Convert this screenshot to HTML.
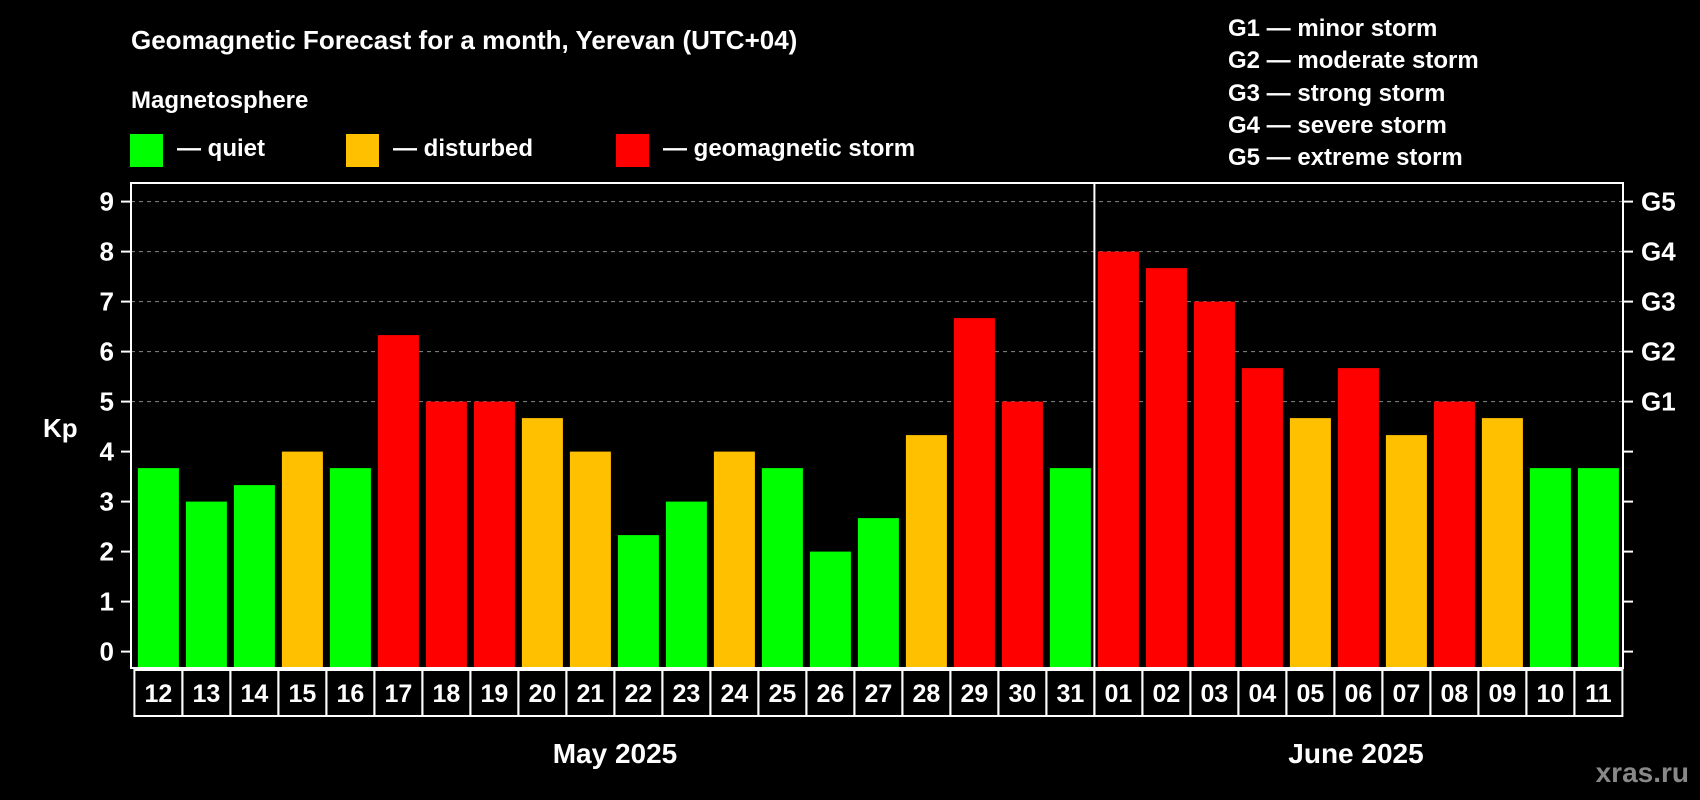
<!DOCTYPE html>
<html><head><meta charset="utf-8"><style>
body{margin:0;background:#000;}
svg{display:block;font-family:"Liberation Sans",sans-serif;font-weight:bold;}
</style></head><body>
<svg id="c" width="1700" height="800" viewBox="0 0 1700 800">
<rect width="1700" height="800" fill="#000"/>
<text x="131" y="49" fill="#fff" font-size="26">Geomagnetic Forecast for a month, Yerevan (UTC+04)</text>
<text x="131" y="108" fill="#fff" font-size="24">Magnetosphere</text>
<g><rect x="130" y="134" width="33" height="33" fill="#00ff00"/><text x="177" y="156" fill="#fff" font-size="24">— quiet</text></g>
<g><rect x="346" y="134" width="33" height="33" fill="#ffc000"/><text x="393" y="156" fill="#fff" font-size="24">— disturbed</text></g>
<g><rect x="616" y="134" width="33" height="33" fill="#ff0000"/><text x="663" y="156" fill="#fff" font-size="24">— geomagnetic storm</text></g>
<g fill="#fff" font-size="24">
<text x="1228" y="36">G1 — minor storm</text>
<text x="1228" y="68">G2 — moderate storm</text>
<text x="1228" y="101">G3 — strong storm</text>
<text x="1228" y="133">G4 — severe storm</text>
<text x="1228" y="165">G5 — extreme storm</text>
</g>
<text x="43" y="437" fill="#fff" font-size="26">Kp</text>
<g id="grid"></g><g id="bars"></g><g id="axes"></g>
<text x="615" y="763" fill="#fff" font-size="28" text-anchor="middle">May 2025</text>
<text x="1356" y="763" fill="#fff" font-size="28" text-anchor="middle">June 2025</text>
<text x="1689" y="782" fill="#888" font-size="28" text-anchor="end">xras.ru</text>
</svg>
<script>
const days=["12","13","14","15","16","17","18","19","20","21","22","23","24","25","26","27","28","29","30","31","01","02","03","04","05","06","07","08","09","10","11"];
const kp=[3.67,3,3.33,4,3.67,6.33,5,5,4.67,4,2.33,3,4,3.67,2,2.67,4.33,6.67,5,3.67,8,7.67,7,5.67,4.67,5.67,4.33,5,4.67,3.67,3.67];
const yTicks=[0,1,2,3,4,5,6,7,8,9];
const gLabels=["G1","G2","G3","G4","G5"];
const gLevels=[5,6,7,8,9];
const juneStart=20;
const NS="http://www.w3.org/2000/svg";
const L=131,R=1623,T=183,B=668,X0=134.4,SW=48.0,BW=41;
const y=v=>651.6-v*50;
const x=i=>X0+i*SW;
function mk(p,tag,a){const e=document.createElementNS(NS,tag);for(const k in a)e.setAttribute(k,a[k]);document.getElementById(p).appendChild(e);return e;}
function col(v){return v>=5?"#ff0000":v>=4?"#ffc000":"#00ff00";}
yTicks.forEach(v=>{
  if(v>=5){const g=mk("grid","line",{x1:L,x2:R,y1:y(v),y2:y(v),stroke:"#888","stroke-dasharray":"4,4","stroke-width":1});
  
  }
  const t=mk("axes","line",{x1:L-10,x2:L,y1:y(v),y2:y(v),stroke:"#fff","stroke-width":2});
  
  
  const t2=mk("axes","line",{x1:R,x2:R+10,y1:y(v),y2:y(v),stroke:"#fff","stroke-width":2});
  
  
  const lb=mk("axes","text",{x:114,y:y(v)+9,fill:"#fff","font-size":26,"text-anchor":"end"});
  lb.textContent=v;
  
  
});
gLabels.forEach((g,i)=>{
  const lb=mk("axes","text",{x:1641,y:y(gLevels[i])+9,fill:"#fff","font-size":26});
  lb.textContent=g;
  
  
});
kp.forEach((v,i)=>{
  const b=mk("bars","rect",{x:x(i)+(SW-BW)/2,y:y(v),width:BW,height:B-y(v)-1,fill:col(v)});
  
  
  const bx=mk("axes","rect",{x:x(i),y:B+2,width:SW,height:46,fill:"none",stroke:"#fff","stroke-width":2});
  
  
  const tl=mk("axes","text",{x:x(i)+SW/2,y:B+34,fill:"#fff","font-size":25,"text-anchor":"middle"});
  tl.textContent=days[i];
  
  
});
const fr=mk("axes","rect",{x:L,y:T,width:R-L,height:B-T,fill:"none",stroke:"#fff","stroke-width":2});


const sep=mk("axes","line",{x1:x(juneStart),x2:x(juneStart),y1:T,y2:B+48,stroke:"#fff","stroke-width":2});


</script>
</body></html>
